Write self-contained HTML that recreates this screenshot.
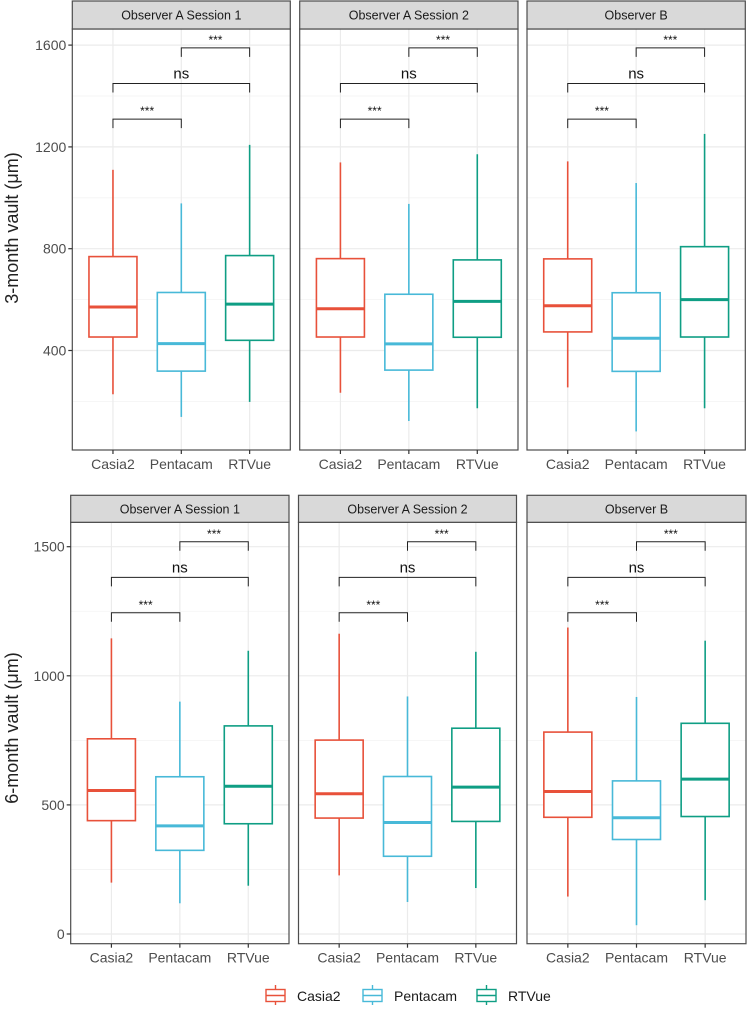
<!DOCTYPE html>
<html><head><meta charset="utf-8">
<style>
html,body{margin:0;padding:0;background:#fff;}
svg{display:block;font-family:"Liberation Sans",Arial,sans-serif;}
</style></head>
<body>
<svg id="chart" width="750" height="1010" viewBox="0 0 750 1010" xmlns="http://www.w3.org/2000/svg"></svg>
<script>
// ---- data ----
const categories = ["Casia2","Pentacam","RTVue"];
const colors = ["#e8513a","#48b9d8","#0f9e84"];
const panelTitles = ["Observer A Session 1","Observer A Session 2","Observer B"];
// each: [lowerWhisker, q1, median, q3, upperWhisker] per category per panel
const vault3Casia2   = [[228,453,571,769,1110],[234,453,564,761,1139],[255,473,576,760,1143]];
const vault3Pentacam = [[139,319,427,628,978],[123,323,426,621,976],[82,318,448,627,1058]];
const vault3RTVue    = [[198,440,582,773,1208],[173,452,593,756,1171],[173,453,600,808,1251]];
const vault6Casia2   = [[199,439,556,756,1145],[227,449,543,751,1163],[145,452,552,782,1187]];
const vault6Pentacam = [[119,324,419,609,900],[124,301,432,610,920],[34,366,450,593,918]];
const vault6RTVue    = [[187,427,572,806,1097],[178,436,569,797,1093],[131,455,600,816,1136]];
const ticks3 = [400,800,1200,1600];
const minor3 = [200,600,1000,1400];
const ticks6 = [0,500,1000,1500];
const minor6 = [250,750,1250];
const brackets3 = [1309,1449,1589];
const brackets6 = [1244,1381,1519];
const bracketLabels = ["***","ns","***"];

const NS="http://www.w3.org/2000/svg";
const svg=document.getElementById('chart');
function mk(tag,attrs,parent){const e=document.createElementNS(NS,tag);for(const k in attrs)e.setAttribute(k,attrs[k]);(parent||svg).appendChild(e);return e;}

function drawRow(cfg){
  const g=mk('g',{});
  
  
  const y=v=>cfg.y0 - (v-cfg.v0)*cfg.k;
  const series=[cfg.s0,cfg.s1,cfg.s2];
  cfg.panels.forEach((p,pi)=>{
    const pg=mk('g',{},g);
    
    
    const L=p[0],R=p[1],W=R-L;
    const step=W/3.19;
    const cx=i=>L+(W-2*step)/2+i*step;
    cfg.minor.forEach(v=>{mk('line',{x1:L,x2:R,y1:y(v),y2:y(v),stroke:'#f3f3f3','stroke-width':0.8},pg);});
    cfg.ticks.forEach(v=>{mk('line',{x1:L,x2:R,y1:y(v),y2:y(v),stroke:'#ebebeb','stroke-width':1.2},pg);});
    categories.forEach((c,i)=>{mk('line',{x1:cx(i),x2:cx(i),y1:cfg.top,y2:cfg.bot,stroke:'#ebebeb','stroke-width':1.2},pg);});
    categories.forEach((c,i)=>{
      const d=series[i][pi];const X=cx(i);const hw=24;
      const bg=mk('g',{},pg);
      
      
      mk('line',{x1:X,x2:X,y1:y(d[0]),y2:y(d[1]),stroke:colors[i],'stroke-width':1.6},bg);
      mk('line',{x1:X,x2:X,y1:y(d[3]),y2:y(d[4]),stroke:colors[i],'stroke-width':1.6},bg);
      mk('rect',{x:X-hw,y:y(d[3]),width:2*hw,height:y(d[1])-y(d[3]),fill:'#fff',stroke:colors[i],'stroke-width':1.6},bg);
      mk('line',{x1:X-hw,x2:X+hw,y1:y(d[2]),y2:y(d[2]),stroke:colors[i],'stroke-width':3},bg);
    });
    const pairs=[[0,1],[0,2],[1,2]];
    pairs.forEach((pr,bi)=>{
      const by=y(cfg.br[bi]);const x1=cx(pr[0]),x2=cx(pr[1]);
      const b=mk('path',{d:`M${x1},${by+9}V${by}H${x2}V${by+9}`,fill:'none',stroke:'#222','stroke-width':1},pg);
      
      
      const lab=bracketLabels[bi];
      const t=mk('text',{x:(x1+x2)/2,y:lab==='ns'?by-5:by-4,'text-anchor':'middle','font-size':lab==='ns'?15:12,fill:'#111'},pg);
      t.textContent=lab;
      
      
    });
    mk('rect',{x:L,y:cfg.top,width:W,height:cfg.bot-cfg.top,fill:'none',stroke:'#4d4d4d','stroke-width':1.2},pg);
    const st=mk('rect',{x:L,y:cfg.stripTop,width:W,height:cfg.top-cfg.stripTop,fill:'#d9d9d9',stroke:'#4d4d4d','stroke-width':1.2},pg);
    
    
    const stt=mk('text',{x:L+W/2,y:(cfg.stripTop+cfg.top)/2+4.5,'text-anchor':'middle','font-size':12.5,fill:'#1a1a1a'},pg);
    stt.textContent=panelTitles[pi];
    
    
    categories.forEach((c,i)=>{
      mk('line',{x1:cx(i),x2:cx(i),y1:cfg.bot,y2:cfg.bot+4,stroke:'#333','stroke-width':1.2},pg);
      const t=mk('text',{x:cx(i),y:cfg.bot+19,'text-anchor':'middle','font-size':14,fill:'#4d4d4d'},pg);
      t.textContent=c;
      
      
    });
    if(pi===0){
      cfg.ticks.forEach(v=>{
        mk('line',{x1:L-4,x2:L,y1:y(v),y2:y(v),stroke:'#333','stroke-width':1.2},pg);
        const t=mk('text',{x:L-6,y:y(v)+5,'text-anchor':'end','font-size':14,fill:'#4d4d4d'},pg);
        t.textContent=v;
        
        
      });
    }
  });
  const yt=mk('text',{x:0,y:0,'text-anchor':'middle','font-size':18,fill:'#222',transform:`translate(18,${cfg.titleY}) rotate(-90)`},g);
  yt.textContent=cfg.title;
  
  
}

drawRow({name:'row-3-month',panels:[[72.3,290.3],[299.7,518],[527,745.3]],top:29,bot:450,stripTop:1,
  y0:248.7,v0:800,k:0.2545,ticks:ticks3,minor:minor3,br:brackets3,s0:vault3Casia2,s1:vault3Pentacam,s2:vault3RTVue,
  title:'3-month vault (μm)',titleY:228});
drawRow({name:'row-6-month',panels:[[70.7,289],[298.5,516.5],[527,746]],top:522.3,bot:943.7,stripTop:495.3,
  y0:934,v0:0,k:129.1/500,ticks:ticks6,minor:minor6,br:brackets6,s0:vault6Casia2,s1:vault6Pentacam,s2:vault6RTVue,
  title:'6-month vault (μm)',titleY:728});

const lg=mk('g',{});


const keyX=[266,363,477],txtX=[297,394,508];
categories.forEach((c,i)=>{
  const e=mk('g',{},lg);
  
  
  const X=keyX[i]+9.5;
  mk('line',{x1:X,x2:X,y1:985,y2:1005,stroke:colors[i],'stroke-width':1.4},e);
  mk('rect',{x:keyX[i],y:989.5,width:19,height:12,fill:'#fff',stroke:colors[i],'stroke-width':1.4},e);
  mk('line',{x1:keyX[i],x2:keyX[i]+19,y1:995.5,y2:995.5,stroke:colors[i],'stroke-width':1.4},e);
  const t=mk('text',{x:txtX[i],y:1001,'font-size':14,fill:'#1a1a1a'},e);
  t.textContent=c;
});
</script>
</body></html>
